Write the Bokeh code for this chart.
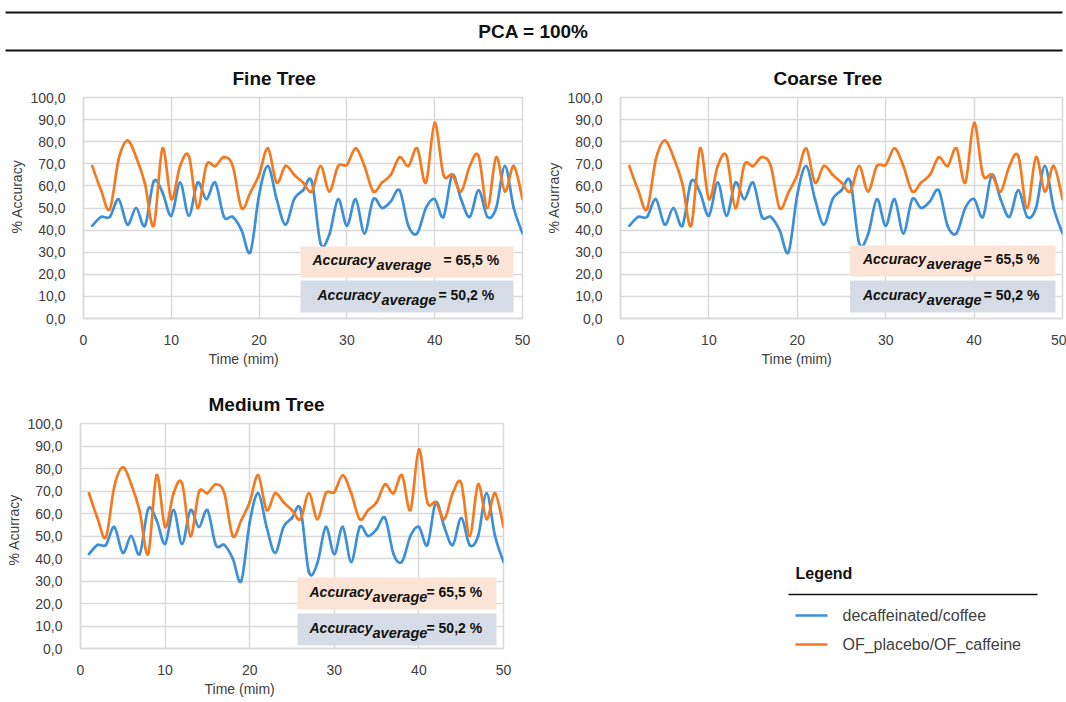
from bokeh.plotting import figure
from bokeh.layouts import column, row
from bokeh.models import (Range1d, FixedTicker, CustomJSTickFormatter, Label, Title,
                          ColumnDataSource, BoxAnnotation)
from bokeh.core.properties import value
from bokeh.embed import file_html
from bokeh.resources import INLINE

# ---------------- data ----------------
main_title = "PCA = 100%"
time_min = list(range(1, 51))
decaf_coffee = [42, 46, 46, 54, 42.5, 50, 42, 62, 57, 46.5,
                61.5, 46.5, 61.5, 54, 61.5, 46, 46, 40, 30, 56,
                69, 54, 42.5, 54, 58, 62, 34, 38, 54, 42,
                54, 38.5, 54, 50, 53, 58, 42, 38.5, 50, 54,
                46, 65, 54, 46, 58, 46, 50, 69, 50, 38.5]
of_placebo_caffeine = [69, 58, 49.5, 72, 80.5, 73, 61, 42, 77, 54,
                       69, 73.5, 50, 69.5, 69, 73, 69, 50, 57, 65,
                       77, 61.5, 69, 65, 61.5, 57.5, 69, 57.5, 69, 69.5,
                       77, 69, 57.5, 61.5, 65, 73, 69, 77, 61.5, 88.5,
                       65, 65, 57.5, 69, 73.5, 50, 73, 57.5, 69, 54]
series_names = ["decaffeinated/coffee", "OF_placebo/OF_caffeine"]
chart_titles = ["Fine Tree", "Coarse Tree", "Medium Tree"]
y_titles = ["% Accuracy", "% Acurracy", "% Acurracy"]
x_title = "Time (mim)"
avg_labels = ["= 65,5 %", "= 50,2 %"]
x_ticks = [0, 10, 20, 30, 40, 50]
y_ticks = [0, 10, 20, 30, 40, 50, 60, 70, 80, 90, 100]
legend_title = "Legend"

# ---------------- style ----------------
FONT_NAME = "Liberation Sans"
FONT = value(FONT_NAME)
BLUE = "#3d8fd8"
ORANGE = "#f5791f"
GRID = "#d9d9d9"
TXT = "#404040"
PEACH = "#fbe4d5"
SLATE = "#d6dce5"

HEAD_H = 54
# page-pixel geometry of each chart
charts = [
    dict(fig=(0, HEAD_H, 540, 375 - HEAD_H), frame=(83, 97, 522, 318),
         title_off=149, xlab_off=125, ylab_off=85, boxx=(300, 513),
         box1=(246, 277), box2=(280, 312),
         t1=(312, 376, 443), t2=(317, 381, 438)),
    dict(fig=(540, HEAD_H, 526, 375 - HEAD_H), frame=(619, 97, 1062, 318),
         title_off=153, xlab_off=141, ylab_off=85, boxx=(849, 1055),
         box1=(245, 276), box2=(280, 312),
         t1=(862, 926, 983), t2=(862, 926, 983)),
    dict(fig=(0, 375, 540, 327), frame=(80, 423, 503, 648),
         title_off=128, xlab_off=124, ylab_off=83, boxx=(297, 496),
         box1=(577, 609), box2=(613, 645),
         t1=(309, 372, 426), t2=(309, 372, 426)),
]


def bezier_source(xs, ys):
    n = len(xs)
    d = dict(x0=[], y0=[], x1=[], y1=[], cx0=[], cy0=[], cx1=[], cy1=[])
    for i in range(n - 1):
        xp, yp = (xs[i - 1], ys[i - 1]) if i > 0 else (xs[i], ys[i])
        xn, yn = (xs[i + 2], ys[i + 2]) if i + 2 < n else (xs[i + 1], ys[i + 1])
        d["x0"].append(xs[i]); d["y0"].append(ys[i])
        d["x1"].append(xs[i + 1]); d["y1"].append(ys[i + 1])
        d["cx0"].append(xs[i] + (xs[i + 1] - xp) / 6.0)
        d["cy0"].append(ys[i] + (ys[i + 1] - yp) / 6.0)
        d["cx1"].append(xs[i + 1] - (xn - xs[i]) / 6.0)
        d["cy1"].append(ys[i + 1] - (yn - ys[i]) / 6.0)
    return ColumnDataSource(d)


def make_chart(k):
    g = charts[k]
    fx, fy, fw, fh = g["fig"]
    l, t, r, b = g["frame"]
    p = figure(width=fw, height=fh, output_backend="svg", toolbar_location=None,
               x_range=Range1d(0, 50), y_range=Range1d(0, 100),
               min_border_left=l - fx, min_border_right=fx + fw - r,
               min_border_top=t - fy, min_border_bottom=fy + fh - b)
    p.background_fill_color = "white"
    p.border_fill_color = "white"
    p.outline_line_color = GRID
    p.outline_line_width = 1.5

    def dx(px):
        return (px - l) / (r - l) * 50.0

    def dy(py):
        return (b - py) / (b - t) * 100.0

    p.title = Title(text=chart_titles[k], align="left", offset=g["title_off"],
                    text_font=FONT_NAME, text_font_size="19px", text_font_style="bold",
                    text_color="#111111", standoff=18)
    p.add_layout(Title(text=x_title, align="left", offset=g["xlab_off"],
                       text_font=FONT_NAME, text_font_size="14px",
                       text_font_style="normal", text_color=TXT, standoff=2), "below")
    p.add_layout(Title(text=y_titles[k], align="left", offset=g["ylab_off"],
                       text_font=FONT_NAME, text_font_size="14px",
                       text_font_style="normal", text_color=TXT, standoff=6), "left")

    p.xaxis.ticker = FixedTicker(ticks=x_ticks)
    p.yaxis.ticker = FixedTicker(ticks=y_ticks)
    p.yaxis.formatter = CustomJSTickFormatter(code="return tick.toFixed(1).replace('.', ',');")
    for ax in (p.xaxis[0], p.yaxis[0]):
        ax.axis_line_color = GRID
        ax.axis_line_width = 1.5
        ax.major_tick_line_color = None
        ax.minor_tick_line_color = None
        ax.major_label_text_font = FONT_NAME
        ax.major_label_text_font_size = "14px"
        ax.major_label_text_color = TXT
    p.xaxis.major_label_standoff = 10
    p.yaxis.major_label_standoff = 12
    p.xgrid.grid_line_color = GRID
    p.ygrid.grid_line_color = GRID
    p.xgrid.grid_line_width = 1.5
    p.ygrid.grid_line_width = 1.5

    p.bezier(x0="x0", y0="y0", x1="x1", y1="y1", cx0="cx0", cy0="cy0",
             cx1="cx1", cy1="cy1", source=bezier_source(time_min, decaf_coffee),
             line_color=BLUE, line_width=2.7, line_cap="round")
    p.bezier(x0="x0", y0="y0", x1="x1", y1="y1", cx0="cx0", cy0="cy0",
             cx1="cx1", cy1="cy1", source=bezier_source(time_min, of_placebo_caffeine),
             line_color=ORANGE, line_width=2.7, line_cap="round")

    bx0, bx1 = g["boxx"]
    for (y0, y1), col in ((g["box1"], PEACH), (g["box2"], SLATE)):
        p.add_layout(BoxAnnotation(left=dx(bx0), right=dx(bx1), top=dy(y0), bottom=dy(y1),
                                   fill_color=col, fill_alpha=1.0, line_color=None,
                                   level="annotation"))
    for (y0, y1), (ta, tb, tc), lab in ((g["box1"], g["t1"], avg_labels[0]),
                                        (g["box2"], g["t2"], avg_labels[1])):
        cy = (y0 + y1) / 2.0
        p.add_layout(Label(x=dx(ta), y=dy(cy - 2), text="Accuracy", text_font=FONT_NAME,
                           text_font_size="14px", text_font_style="bold italic",
                           text_color="#111111", text_baseline="middle", text_align="left",
                           level="overlay"))
        p.add_layout(Label(x=dx(tb), y=dy(cy + 3), text="average", text_font=FONT_NAME,
                           text_font_size="14.5px", text_font_style="bold italic",
                           text_color="#111111", text_baseline="middle", text_align="left",
                           level="overlay"))
        p.add_layout(Label(x=dx(tc), y=dy(cy - 2), text=lab, text_font=FONT_NAME,
                           text_font_size="14px", text_font_style="bold",
                           text_color="#111111", text_baseline="middle", text_align="left",
                           level="overlay"))
    return p


def canvas(x0, y0, w, h, top=0, bottom=0):
    p = figure(width=w, height=h, output_backend="svg", toolbar_location=None,
               x_range=Range1d(x0, x0 + w), y_range=Range1d(y0 + h - bottom, y0 + top),
               min_border_left=0, min_border_right=0,
               min_border_top=top, min_border_bottom=bottom)
    p.axis.visible = False
    p.grid.visible = False
    p.outline_line_color = None
    p.background_fill_color = "white"
    p.border_fill_color = "white"
    return p


# header
head = canvas(0, 0, 1066, HEAD_H)
head.segment(x0=[5, 5], y0=[12, 50], x1=[1062, 1062], y1=[12, 50],
             line_color="#111111", line_width=2)
head.text(x=[533], y=[31], text=[main_title], text_font=FONT, text_font_size="19px",
          text_font_style="bold", text_color="#111111", text_align="center",
          text_baseline="middle")

fine = make_chart(0)
coarse = make_chart(1)
medium = make_chart(2)

# legend panel
leg = canvas(540, 375, 526, 327)
leg.text(x=[795], y=[573], text=[legend_title], text_font=FONT, text_font_size="16px",
         text_font_style="bold", text_color="#111111", text_align="left",
         text_baseline="middle")
leg.segment(x0=[788], y0=[594], x1=[1037], y1=[594], line_color="#111111", line_width=1.5)
leg.segment(x0=[795, 795], y0=[615, 644], x1=[827, 827], y1=[615, 644],
            line_color=[BLUE, ORANGE], line_width=2.5)
leg.text(x=[842, 842], y=[615, 644], text=series_names, text_font=FONT,
         text_font_size="16px", text_color=TXT, text_align="left", text_baseline="middle")

layout = column(head, row(fine, coarse), row(medium, column(leg)))
open("out.html", "w").write(file_html(layout, INLINE))
